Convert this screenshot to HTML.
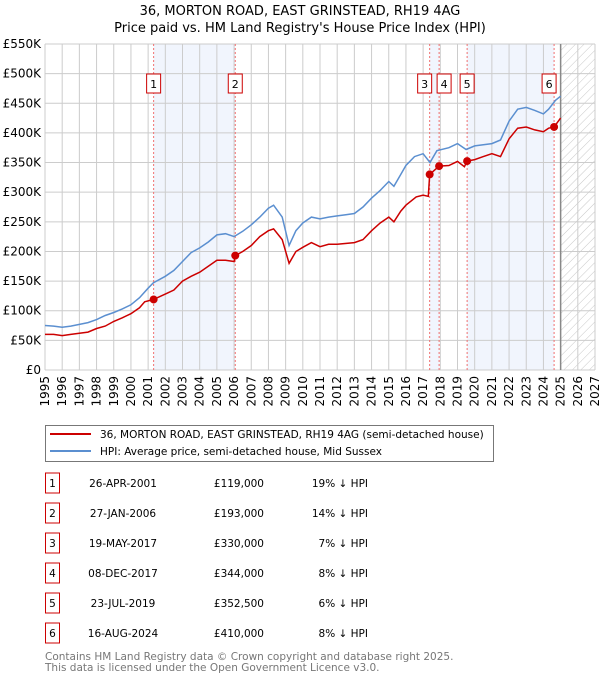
<!DOCTYPE html>
<html><head><meta charset="utf-8"><style>
body{margin:0;background:#fff;font-family:"Liberation Sans","DejaVu Sans",sans-serif;}
svg text{font-family:"DejaVu Sans","Liberation Sans",sans-serif;}
</style></head><body>
<svg id="c" width="600" height="680" xmlns="http://www.w3.org/2000/svg">
<text x="300" y="15" text-anchor="middle" font-size="13">36, MORTON ROAD, EAST GRINSTEAD, RH19 4AG</text>
<text x="300" y="32" text-anchor="middle" font-size="13">Price paid vs. HM Land Registry's House Price Index (HPI)</text>
<g id="plot"></g>
<g>
<rect x="45.5" y="425.5" width="448" height="36" fill="#fff" stroke="#777"/>
<line x1="50" y1="434" x2="91" y2="434" stroke="#cc0000" stroke-width="2"/>
<text x="100" y="438" font-size="10.5">36, MORTON ROAD, EAST GRINSTEAD, RH19 4AG (semi-detached house)</text>
<line x1="50" y1="451" x2="91" y2="451" stroke="#5b8fd0" stroke-width="2"/>
<text x="100" y="455" font-size="10.5">HPI: Average price, semi-detached house, Mid Sussex</text>
</g>
<g id="tbl"></g>
<text x="45" y="660" font-size="10.5" fill="#777">Contains HM Land Registry data © Crown copyright and database right 2025.</text>
<text x="45" y="671" font-size="10.5" fill="#777">This data is licensed under the Open Government Licence v3.0.</text>
</svg>
<script>
const hpiT=[1995,1995.5,1996,1996.5,1997,1997.5,1998,1998.5,1999,1999.5,2000,2000.5,2001,2001.3,2002,2002.5,2003,2003.5,2004,2004.5,2005,2005.5,2006,2006.5,2007,2007.5,2008,2008.3,2008.8,2009.2,2009.6,2010,2010.5,2011,2011.5,2012,2012.5,2013,2013.5,2014,2014.5,2015,2015.3,2015.7,2016,2016.5,2017,2017.4,2017.8,2018.5,2019,2019.5,2020,2020.5,2021,2021.5,2022,2022.5,2023,2023.5,2024,2024.3,2024.7,2025];
const hpiV=[75,74,72,74,77,80,85,92,97,103,110,122,138,147,158,168,183,198,206,216,228,230,225,234,245,258,273,278,258,210,235,248,258,255,258,260,262,264,275,290,303,318,310,330,345,360,365,350,370,375,382,372,378,380,382,388,420,440,443,438,432,440,455,462];
const redT=[1995,1995.5,1996,1996.5,1997,1997.5,1998,1998.5,1999,1999.5,2000,2000.5,2000.8,2001.3,2002,2002.5,2003,2003.5,2004,2004.5,2005,2005.5,2006,2006.07,2006.5,2007,2007.5,2008,2008.3,2008.8,2009.2,2009.6,2010,2010.5,2011,2011.5,2012,2013,2013.5,2014,2014.5,2015,2015.3,2015.7,2016,2016.6,2017,2017.3,2017.38,2017.93,2018.5,2019,2019.4,2019.56,2020,2020.5,2021,2021.5,2022,2022.5,2023,2023.5,2024,2024.3,2024.62,2025];
const redV=[60,60,58,60,62,64,70,74,82,88,95,105,115,119,128,135,150,158,165,175,185,185,183,193,200,210,225,235,238,220,180,200,207,215,208,212,212,215,220,235,248,258,250,268,278,292,295,293,330,344,345,352,343,352.5,355,360,365,360,390,408,410,405,402,408,410,425];
const saleT=[2001.32,2006.07,2017.38,2017.93,2019.56,2024.62];
const saleV=[119000,193000,330000,344000,352500,410000];
const saleLabels=["1","2","3","4","5","6"];
const saleDates=["26-APR-2001","27-JAN-2006","19-MAY-2017","08-DEC-2017","23-JUL-2019","16-AUG-2024"];
const salePrices=["£119,000","£193,000","£330,000","£344,000","£352,500","£410,000"];
const saleDiffs=["19% ↓ HPI","14% ↓ HPI","7% ↓ HPI","8% ↓ HPI","6% ↓ HPI","8% ↓ HPI"];
const yTicks=[0,50,100,150,200,250,300,350,400,450,500,550];
const yTickLabels=["£0","£50K","£100K","£150K","£200K","£250K","£300K","£350K","£400K","£450K","£500K","£550K"];
const xYears=[1995,1996,1997,1998,1999,2000,2001,2002,2003,2004,2005,2006,2007,2008,2009,2010,2011,2012,2013,2014,2015,2016,2017,2018,2019,2020,2021,2022,2023,2024,2025,2026,2027];

const X0=45,X1=595,Y0=370,Y1=44;
const xs=t=>X0+(t-1995)/(2027-1995)*(X1-X0);
const ys=v=>Y0-v/550*(Y0-Y1);
const NS="http://www.w3.org/2000/svg";
const plot=document.getElementById('plot');
function mk(tag,at,parent){const e=document.createElementNS(NS,tag);for(const k in at)e.setAttribute(k,at[k]);(parent||plot).appendChild(e);return e;}
const defs=mk('defs',{});
const pat=mk('pattern',{id:'hatch',width:'6',height:'6',patternUnits:'userSpaceOnUse',patternTransform:'rotate(45)'},defs);
mk('line',{x1:0,y1:0,x2:0,y2:6,stroke:'#c8c8c8','stroke-width':1},pat);
const bands=[[0,1],[2,3],[4,5]];
bands.forEach((b,i)=>{const r=mk('rect',{x:xs(saleT[b[0]]),y:Y1,width:xs(saleT[b[1]])-xs(saleT[b[0]]),height:Y0-Y1,fill:'#f1f5fd'});

});
const ht=mk('rect',{x:xs(2025),y:Y1,width:X1-xs(2025),height:Y0-Y1,fill:'url(#hatch)'});


xYears.forEach(y=>{mk('line',{x1:xs(y),y1:Y1,x2:xs(y),y2:Y0,stroke:'#ccc','stroke-width':1});
const t=mk('text',{x:0,y:0,'font-size':12,'text-anchor':'end',transform:`translate(${xs(y)+4},${Y0+6}) rotate(-90)`});t.textContent=y;

});
yTicks.forEach((v,i)=>{mk('line',{x1:X0,y1:ys(v),x2:X1,y2:ys(v),stroke:'#ccc','stroke-width':1});
const t=mk('text',{x:X0-4,y:ys(v)+4,'font-size':12,'text-anchor':'end'});t.textContent=yTickLabels[i];

});
mk('line',{x1:xs(2025),y1:Y1,x2:xs(2025),y2:Y0,stroke:'#888','stroke-width':1.5});
saleT.forEach(t=>{mk('line',{x1:xs(t),y1:Y1,x2:xs(t),y2:Y0,stroke:'#f07070','stroke-width':1,'stroke-dasharray':'2,2'});});
const hp=mk('path',{d:hpiT.map((t,i)=>(i?'L':'M')+xs(t).toFixed(1)+','+ys(hpiV[i]).toFixed(1)).join(''),fill:'none',stroke:'#5b8fd0','stroke-width':1.5});


const rp=mk('path',{d:redT.map((t,i)=>(i?'L':'M')+xs(t).toFixed(1)+','+ys(redV[i]).toFixed(1)).join(''),fill:'none',stroke:'#cc0000','stroke-width':1.5});


const labX=[0,0,-5,5,0,-5];
saleT.forEach((t,i)=>{const c=mk('circle',{cx:xs(t),cy:ys(saleV[i]/1000),r:4,fill:'#cc0000'});


const cx=xs(t)+labX[i];
mk('rect',{x:cx-7,y:74,width:14,height:19,fill:'#fff',stroke:'#cc0000'});
const tx=mk('text',{x:cx,y:88,'font-size':11,'text-anchor':'middle'});tx.textContent=saleLabels[i];

});
const tbl=document.getElementById('tbl');
saleLabels.forEach((l,i)=>{const cy=483+i*30;
mk('rect',{x:45.5,y:cy-10,width:14,height:20,fill:'#fff',stroke:'#cc0000'},tbl);
const a=mk('text',{x:52.5,y:cy+4,'font-size':10.5,'text-anchor':'middle'},tbl);a.textContent=l;


const d=mk('text',{x:123,y:cy+4,'font-size':10.5,'text-anchor':'middle'},tbl);d.textContent=saleDates[i];


const p=mk('text',{x:264,y:cy+4,'font-size':10.5,'text-anchor':'end'},tbl);p.textContent=salePrices[i];


const h=mk('text',{x:368,y:cy+4,'font-size':10.5,'text-anchor':'end'},tbl);h.textContent=saleDiffs[i];

});
</script>
</body></html>
